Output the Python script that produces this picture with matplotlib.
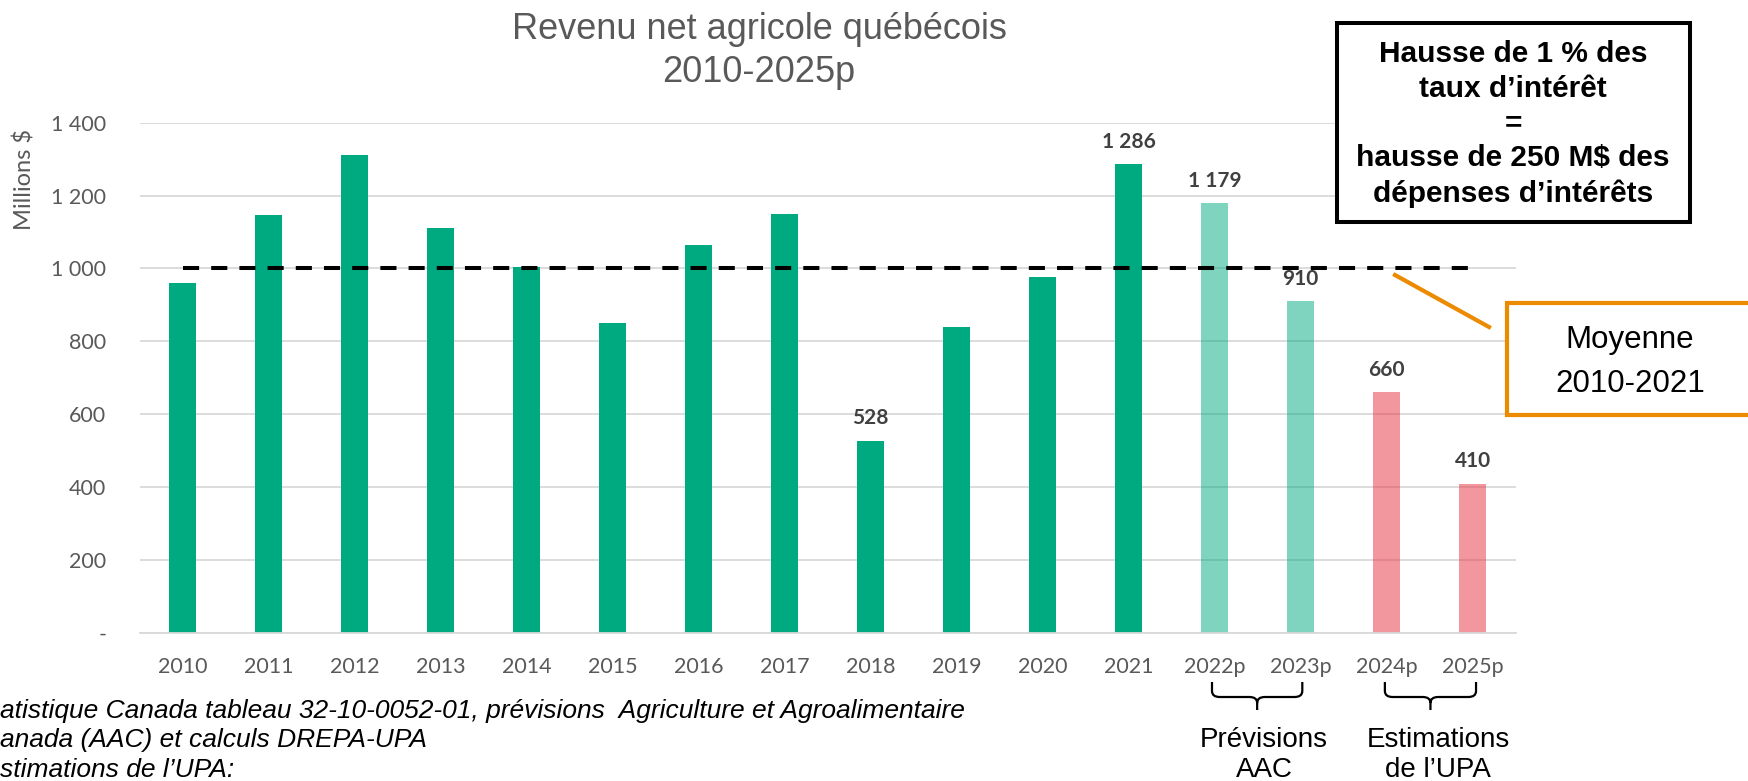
import matplotlib
matplotlib.use('Agg')
import matplotlib.pyplot as plt
import matplotlib.transforms as mtransforms
from matplotlib.colors import to_rgba
from matplotlib.patches import Rectangle, PathPatch
from matplotlib.path import Path
from matplotlib.lines import Line2D

# donnees
annees = ['2010', '2011', '2012', '2013', '2014', '2015', '2016', '2017',
          '2018', '2019', '2020', '2021', '2022p', '2023p', '2024p', '2025p']
revenu = [959, 1146, 1312, 1110, 1003, 850, 1064, 1149,
          528, 840, 976, 1286, 1179, 910, 660, 410]
groupe = ['reel'] * 12 + ['aac'] * 2 + ['upa'] * 2
etiquettes = [8, 11, 12, 13, 14, 15]   # barres avec valeur affichee
moyenne = 1000
yticks = [0, 200, 400, 600, 800, 1000, 1200, 1400]
ytick_labels = ['-', '200', '400', '600', '800', '1 000', '1 200', '1 400']

source_lignes = ['atistique Canada tableau 32-10-0052-01, prévisions  Agriculture et Agroalimentaire',
                 'anada (AAC) et calculs DREPA-UPA',
                 'stimations de l\u2019UPA:']
encadre = 'Hausse de 1 % des\ntaux d\u2019intérêt\n=\nhausse de 250 M$ des\ndépenses d\u2019intérêts'

couleurs = {'reel': to_rgba('#00AA80', 1.0),
            'aac': to_rgba('#00AA80', 0.5),
            'upa': to_rgba('#E9303F', 0.5)}
gris = '#595959'
orange = '#EC8A00'

W, H = 1748, 781
fig = plt.figure(figsize=(W / 100, H / 100), dpi=100)
ax = fig.add_axes([139.5 / W, 1 - 633 / H, (1515.6 - 139.5) / W, (633 - 122.7) / H])

x = list(range(len(annees)))
ax.bar(x, revenu, width=0.31, color=[couleurs[g] for g in groupe], zorder=2)

ax.set_xlim(-0.5, len(annees) - 0.5)
ax.set_ylim(0, 1400)
ax.set_yticks(yticks)
ax.set_yticklabels(ytick_labels)
ax.set_xticks(x)
ax.set_xticklabels(annees)
ax.set_axisbelow(True)
ax.yaxis.grid(True, color='#D9D9D9', linewidth=1.3)
for s in ['top', 'right', 'left']:
    ax.spines[s].set_visible(False)
ax.spines['bottom'].set_color('#D9D9D9')
ax.spines['bottom'].set_linewidth(1.3)
ax.tick_params(axis='both', length=0, colors=gris, labelsize=15.5)
ax.tick_params(axis='y', pad=24)
ax.tick_params(axis='x', pad=17)
for lab in ax.get_xticklabels() + ax.get_yticklabels():
    lab.set_fontfamily('Lato')

# ligne de la moyenne
ax.plot([0, len(annees) - 1], [moyenne, moyenne], color='black', lw=2.9,
        dashes=(4, 3), zorder=3)

for i in etiquettes:
    ax.annotate(f'{revenu[i]:,}'.replace(',', ' '), (i, revenu[i]), xytext=(0, 12),
                textcoords='offset points', ha='center', va='baseline',
                fontfamily='Lato', fontweight='bold', fontsize=15, color='#404040')

# titre et axe y
fig.text(759 / W, 1 - 51 / H, 'Revenu net agricole québécois\n2010-2025p', ha='center',
         va='center', fontsize=26, color=gris, family='Liberation Sans', linespacing=1.3)
fig.text(24 / W, 1 - 180 / H, 'Millions $', rotation=90, ha='center', va='center',
         fontsize=17, color=gris, family='Lato')

# encadre noir
fig.patches.append(Rectangle((1337 / W, 1 - 222 / H), (1690 - 1337) / W, (222 - 23) / H,
                             transform=fig.transFigure, facecolor='white', edgecolor='black',
                             linewidth=2.9, zorder=5))
fig.text(1513 / W, 1 - 124 / H, encadre, ha='center', va='center', fontsize=21.5,
         fontweight='bold', family='Liberation Sans', linespacing=1.3, zorder=6)

# encadre orange + trait
fig.patches.append(Rectangle((1507 / W, 1 - 415 / H), 300 / W, 112 / H,
                             transform=fig.transFigure, facecolor='white', edgecolor=orange,
                             linewidth=3, zorder=5))
fig.text(1630 / W, 1 - 362 / H, 'Moyenne\n2010-2021', ha='center', va='center', fontsize=22.5,
         family='Liberation Sans', linespacing=1.6, zorder=6)
fig.lines.append(Line2D([1395 / W, 1489 / W], [1 - 275 / H, 1 - 327 / H],
                        transform=fig.transFigure, color=orange, lw=3))

# accolades sous les annees projetees
trans = mtransforms.blended_transform_factory(ax.transData, fig.transFigure)


def accolade(x0, x1, ytop, ymid, ybot):
    xc = (x0 + x1) / 2
    ry = 6 / H
    rx = 0.09
    verts = [(x0, ytop), (x0, ymid + ry), (x0, ymid), (x0 + rx, ymid),
             (xc - rx, ymid), (xc, ymid), (xc, ymid - ry), (xc, ybot),
             (x1, ytop), (x1, ymid + ry), (x1, ymid), (x1 - rx, ymid),
             (xc + rx, ymid), (xc, ymid), (xc, ymid - ry)]
    codes = [Path.MOVETO, Path.LINETO, Path.CURVE3, Path.CURVE3,
             Path.LINETO, Path.CURVE3, Path.CURVE3, Path.LINETO,
             Path.MOVETO, Path.LINETO, Path.CURVE3, Path.CURVE3,
             Path.LINETO, Path.CURVE3, Path.CURVE3]
    p = PathPatch(Path(verts, codes), transform=trans, facecolor='none',
                  edgecolor='black', lw=1.6, clip_on=False)
    fig.patches.append(p)


accolade(11.97, 13.02, 1 - 682 / H, 1 - 697 / H, 1 - 710 / H)
accolade(13.98, 15.04, 1 - 682 / H, 1 - 697 / H, 1 - 710 / H)

fig.text(1264 / W, 1 - 755 / H, 'Prévisions\nAAC', ha='center', va='center', fontsize=20,
         family='Liberation Sans', linespacing=1.24)
fig.text(1438 / W, 1 - 755 / H, 'Estimations\nde l\u2019UPA', ha='center', va='center',
         fontsize=20, family='Liberation Sans', linespacing=1.24)

# source
for k, ligne in enumerate(source_lignes):
    fig.text(0, 1 - (711 + 29.5 * k) / H, ligne, ha='left', va='center', fontsize=19,
             style='italic', family='Liberation Sans')

fig.savefig('out.png', dpi=100)
